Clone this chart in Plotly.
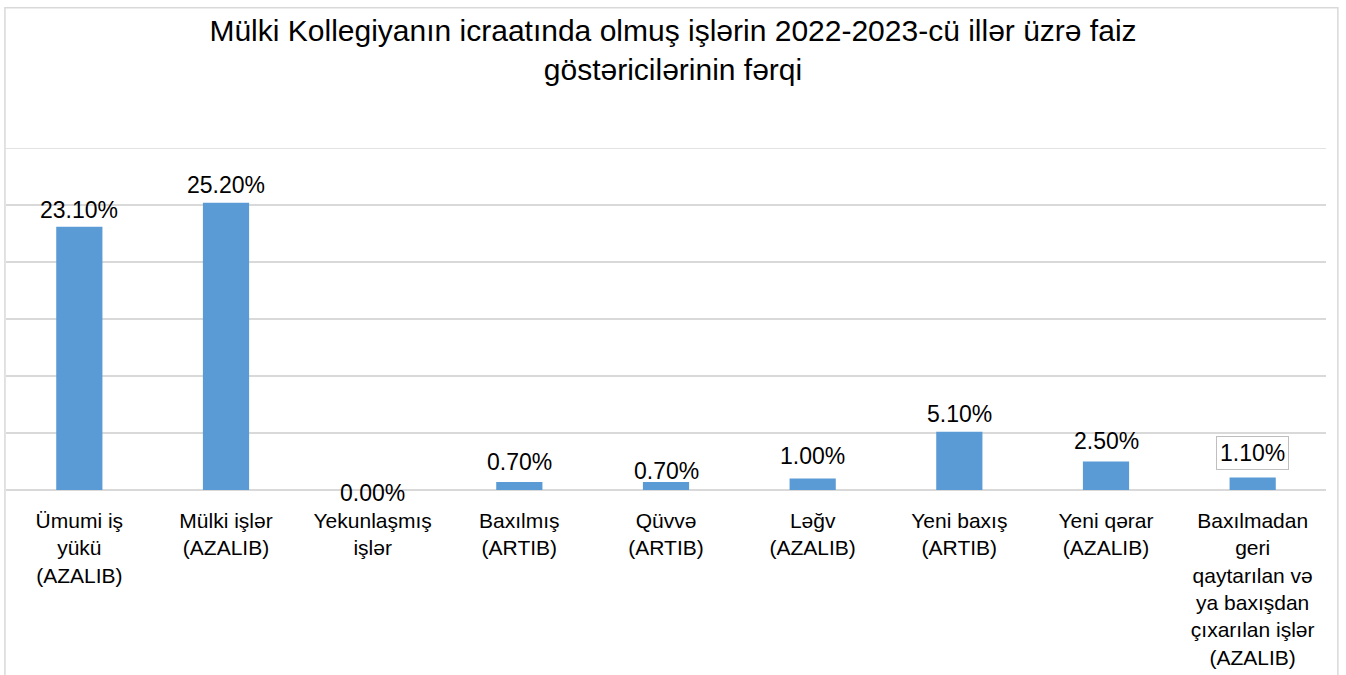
import plotly.graph_objects as go

categories = [
    "Ümumi iş<br>yükü<br>(AZALIB)",
    "Mülki işlər<br>(AZALIB)",
    "Yekunlaşmış<br>işlər",
    "Baxılmış<br>(ARTIB)",
    "Qüvvə<br>(ARTIB)",
    "Ləğv<br>(AZALIB)",
    "Yeni baxış<br>(ARTIB)",
    "Yeni qərar<br>(AZALIB)",
    "Baxılmadan<br>geri<br>qaytarılan və<br>ya baxışdan<br>çıxarılan işlər<br>(AZALIB)",
]
values = [23.1, 25.2, 0.0, 0.7, 0.7, 1.0, 5.1, 2.5, 1.1]
labels = ["23.10%", "25.20%", "0.00%", "0.70%", "0.70%", "1.00%", "5.10%", "2.50%", "1.10%"]

# label offsets (px) as placed in the original chart
label_shift = [17, 18, -3, 20, 11, 23, 18, 21, 24]
label_boxed = [False] * 8 + [True]

Y_MAX = 30
FONT = "Liberation Sans, Arial, sans-serif"
GRID = "#d9d9d9"

fig = go.Figure()
fig.add_trace(go.Bar(
    x=categories, y=values,
    marker=dict(color="#5b9bd5", line_width=0),
    hoverinfo="skip",
))

for cat, v, lab, sh, boxed in zip(categories, values, labels, label_shift, label_boxed):
    fig.add_annotation(
        x=cat, y=v, text=lab, showarrow=False,
        yanchor="middle", yshift=sh,
        font=dict(size=23, color="#000000", family=FONT),
        bordercolor="#bfbfbf" if boxed else "rgba(0,0,0,0)",
        borderwidth=1, borderpad=3, bgcolor="white" if boxed else "rgba(0,0,0,0)",
    )

# top gridline (plotly skips the one on the plot edge)
fig.add_shape(type="line", xref="paper", yref="y", x0=0, x1=1, y0=Y_MAX, y1=Y_MAX,
              line=dict(color=GRID, width=1.5), layer="below")

# outer chart border
fig.add_shape(type="rect", xref="paper", yref="paper",
              x0=-0.0008, x1=1.009, y0=-0.56, y1=1.41,
              line=dict(color=GRID, width=1.5), layer="below")

fig.update_layout(
    width=1346, height=675,
    paper_bgcolor="white", plot_bgcolor="white",
    title=dict(
        text="Mülki Kollegiyanın icraatında olmuş işlərin 2022-2023-cü illər üzrə faiz<br>göstəricilərinin fərqi",
        x=0.5, xanchor="center", y=0.94, yanchor="middle",
        font=dict(size=30, color="#000000", family=FONT),
    ),
    xaxis=dict(
        tickfont=dict(size=21, color="#000000", family=FONT),
        showline=False, ticks="", showgrid=False,
        ticklabelstandoff=16, automargin=False,
    ),
    yaxis=dict(
        range=[0, Y_MAX], dtick=5, showticklabels=False,
        gridcolor=GRID, gridwidth=1.5,
        zeroline=True, zerolinecolor=GRID, zerolinewidth=1.5,
    ),
    bargap=0.685,
    showlegend=False,
    margin=dict(l=6, r=20, t=148, b=185),
)

fig.write_html("out.html", config={"displayModeBar": False},
               post_script="document.body.style.margin='0';")
